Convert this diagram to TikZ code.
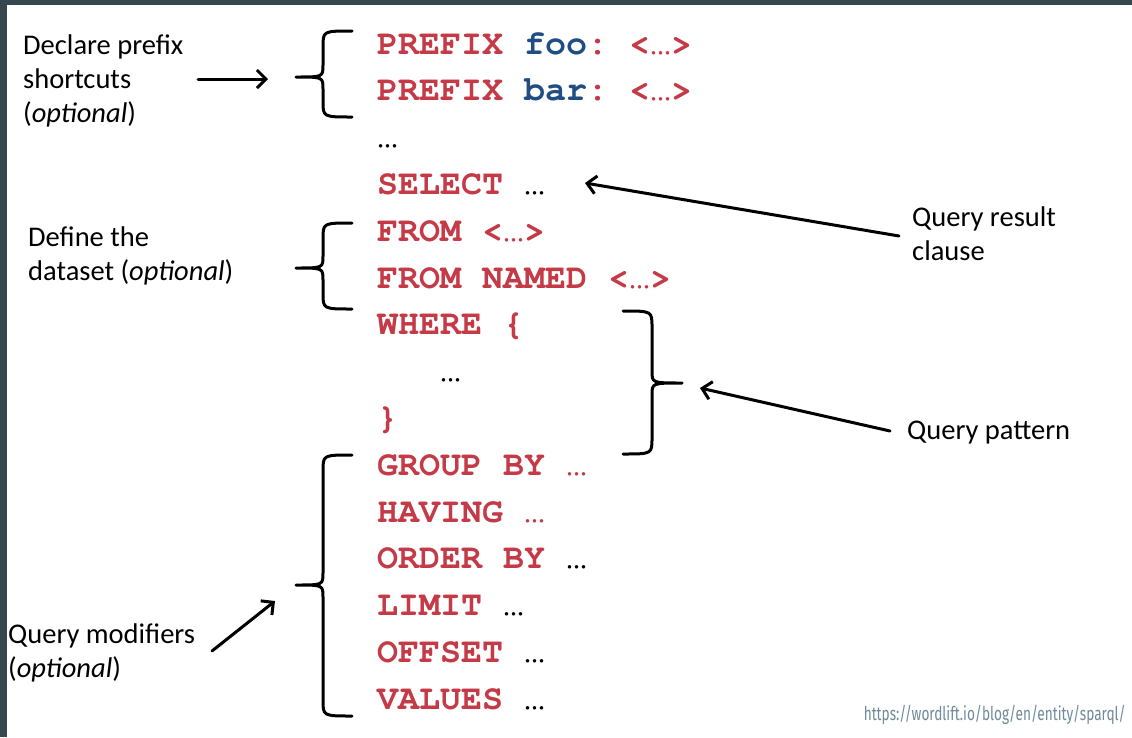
\documentclass[tikz,border=0pt]{standalone}
\usepackage{fontspec}
\usetikzlibrary{arrows.meta}
\newfontfamily\lblfont{Carlito}
\newfontfamily\codefont{texgyrecursor}[Extension=.otf, UprightFont=*-regular, BoldFont=*-bold]
\newfontfamily\urlfont{Fira Sans}
\definecolor{frame}{HTML}{37474F}
\definecolor{sqred}{HTML}{C43A46}
\definecolor{sqblue}{HTML}{1F4E85}
\definecolor{urlgrey}{HTML}{6F8A9A}
\newcommand\sqbrace[6]{% xend, xvert, xtip, ytop, ymid, ybot
  \draw[bracestyle] (#1,#4) .. controls (#2,#4) .. (#2,{#4+16}) -- (#2,{#5-12})
    .. controls (#2,#5) .. (#3,#5)
    (#3,#5) .. controls (#2,#5) .. (#2,{#5+12}) -- (#2,{#6-16})
    .. controls (#2,#6) .. (#1,#6);}
\newcommand\dd{{\mdseries …}}
\begin{document}
\begin{tikzpicture}[x=1pt,y=-1pt,
  lbl/.style={font=\lblfont\fontsize{28.5}{34}\selectfont, anchor=base west, inner sep=0pt, align=left},
  code/.style={font=\codefont\bfseries\fontsize{35}{35}\selectfont\frenchspacing, text=sqred, anchor=base west, inner sep=0pt},
  bracestyle/.style={draw=black, line width=3pt, line cap=round, line join=round},
  arr/.style={draw=black, line width=3pt, line cap=round, -{Straight Barb[length=9pt,width=18pt,line width=3pt]}}]
\useasboundingbox (0,0) rectangle (1132,737);
\fill[white] (0,0) rectangle (1132,737);
\fill[frame] (0,0) rectangle (1132,5);
\fill[frame] (0,0) rectangle (7,737);

% code lines
\node[code] (l0) at (377,54) {PREFIX \textcolor{sqblue}{foo}: <\dd>};
\node[code] (l1) at (377,100.8) {PREFIX \textcolor{sqblue}{bar}: <\dd>};
\node[code,text=black] (l2) at (377,147.6) {\dd};
\node[code] (l3) at (377,194.4) {SELECT \textcolor{black}{\dd}};
\node[code] (l4) at (377,241.2) {FROM <\dd>};
\node[code] (l5) at (377,288) {FROM NAMED <\dd>};
\node[code] (l6) at (377,334.8) {WHERE \{};
\node[code,text=black] (l7) at (440,381.6) {\dd};
\node[code] (l8) at (377,428.4) {\}};
\node[code] (l9) at (377,475.2) {GROUP BY \dd};
\node[code] (l10) at (377,522) {HAVING \dd};
\node[code] (l11) at (377,568.8) {ORDER BY \textcolor{black}{\dd}};
\node[code] (l12) at (377,615.6) {LIMIT \textcolor{black}{\dd}};
\node[code] (l13) at (377,662.4) {OFFSET \textcolor{black}{\dd}};
\node[code] (l14) at (377,709.2) {VALUES \textcolor{black}{\dd}};

% labels
\node[lbl] (decl) at (23,54) {\vtop{\hbox{Declare prefix}\hbox{shortcuts}\hbox{(\textit{optional})}}};
\node[lbl] (defn) at (28,246) {\vtop{\hbox{Define the}\hbox{dataset (\textit{optional})}}};
\node[lbl] (qres) at (912,226) {\vtop{\hbox{Query result}\hbox{clause}}};
\node[lbl] (qpat) at (907,439) {Query pattern};
\node[lbl] (qmod) at (8,643) {\vtop{\hbox{Query modifiers}\hbox{(\textit{optional})}}};
\node[anchor=base east, inner sep=0pt, text=urlgrey, font=\urlfont\fontsize{19}{19}\selectfont] (url) at (1126,720)
  {\resizebox{262pt}{\height}{https://wordlift.io/blog/en/entity/sparql/}};

% braces
\sqbrace{352}{323}{296}{31}{77}{117}
\sqbrace{352}{323}{296}{223}{268}{309}
\sqbrace{623}{652}{682}{311}{383}{454}
\sqbrace{352}{323}{296}{455}{585}{716}

% arrow ends
\coordinate (a1s) at (198,79);  \coordinate (a1e) at (268,79);
\coordinate (a2s) at (899,236); \coordinate (a2e) at (585,183);
\coordinate (a3s) at (890,431); \coordinate (a3e) at (700,388);
\coordinate (a4s) at (212,651); \coordinate (a4e) at (275,601);
\draw[arr] (a1s) -- (a1e);
\draw[arr] (a2s) -- (a2e);
\draw[arr] (a3s) -- (a3e);
\draw[arr] (a4s) -- (a4e);
\end{tikzpicture}
\end{document}
